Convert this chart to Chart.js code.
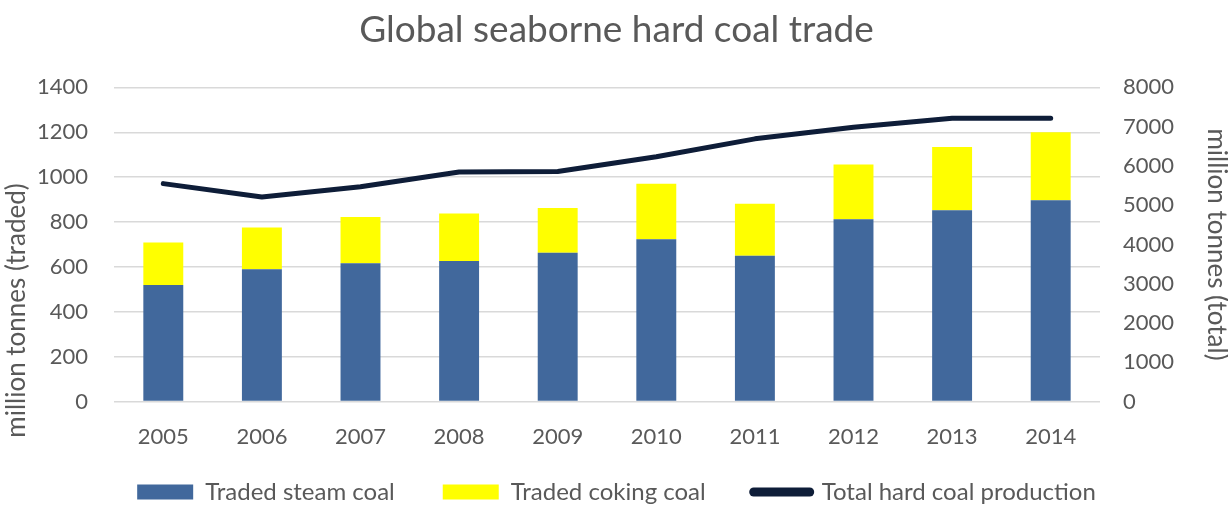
<!DOCTYPE html>
<html>
<head>
<meta charset="utf-8">
<script src="https://cdn.jsdelivr.net/npm/chart.js@4.4.1/dist/chart.umd.min.js"></script>
<style>
  html, body { margin: 0; padding: 0; background: #ffffff; }
  #wrap { width: 1228px; height: 507px; }
</style>
</head>
<body>
<div id="wrap"><canvas id="coalChart"></canvas></div>
<script>
// Years on the x axis
const years = ["2005", "2006", "2007", "2008", "2009", "2010", "2011", "2012", "2013", "2014"];

// million tonnes traded (left axis)
const steamCoal = [520, 590, 616, 627, 663, 723, 650, 813, 853, 897];
const cokingCoal = [189, 186, 207, 211, 200, 248, 232, 244, 281, 303];

// million tonnes total production (right axis)
const totalProduction = [5550, 5210, 5470, 5845, 5860, 6235, 6690, 6985, 7215, 7215];

const textGrey = "#595959";
const baseFont = "Lato, 'Open Sans', sans-serif";
const plainNumber = (v) => String(v);

// legend keeps wide gaps between items but sits closer to the axis
const LEGEND_LIFT = 18;
// the left axis title sits lower than the axis middle in the original
const LEFT_TITLE_SHIFT = 66;

const layoutTweaks = {
    id: "layoutTweaks",
    afterInit(chart) {
        const legend = chart.legend;
        const fit = legend.fit.bind(legend);
        legend.fit = function () {
            fit();
            this.height -= LEGEND_LIFT;
        };
        const draw = legend.draw.bind(legend);
        legend.draw = function () {
            const top = this.top;
            this.top = top - LEGEND_LIFT;
            draw();
            this.top = top;
        };
    },
    afterLayout(chart) {
        const scale = chart.scales.y;
        if (scale._titleShifted) return;
        const drawTitle = scale.drawTitle.bind(scale);
        scale.drawTitle = function () {
            chart.ctx.save();
            chart.ctx.translate(0, LEFT_TITLE_SHIFT);
            drawTitle();
            chart.ctx.restore();
        };
        scale._titleShifted = true;
    }
};

document.addEventListener("DOMContentLoaded", () => {
    const ctx = document.getElementById("coalChart").getContext("2d");
    new Chart(ctx, {
        data: {
            labels: years,
            datasets: [
                {
                    type: "line",
                    label: "Total hard coal production",
                    data: totalProduction,
                    yAxisID: "yTotal",
                    borderColor: "#0e1d38",
                    backgroundColor: "#0e1d38",
                    borderWidth: 5,
                    borderCapStyle: "round",
                    borderJoinStyle: "round",
                    pointRadius: 0,
                    tension: 0,
                    order: 0
                },
                {
                    type: "bar",
                    label: "Traded steam coal",
                    data: steamCoal,
                    yAxisID: "y",
                    backgroundColor: "#41689c",
                    barPercentage: 0.405,
                    categoryPercentage: 1,
                    order: 1
                },
                {
                    type: "bar",
                    label: "Traded coking coal",
                    data: cokingCoal,
                    yAxisID: "y",
                    backgroundColor: "#ffff00",
                    barPercentage: 0.405,
                    categoryPercentage: 1,
                    order: 1
                }
            ]
        },
        options: {
            responsive: true,
            maintainAspectRatio: false,
            animation: false,
            layout: { padding: { left: 1, right: -4, top: 2, bottom: -7 } },
            plugins: {
                title: {
                    display: true,
                    text: "Global seaborne hard coal trade",
                    color: textGrey,
                    font: { family: baseFont, size: 37, weight: "normal" },
                    padding: { top: 6, bottom: 35 }
                },
                legend: {
                    position: "bottom",
                    labels: {
                        color: textGrey,
                        font: { family: baseFont, size: 24 },
                        usePointStyle: true,
                        pointStyleWidth: 56,
                        boxHeight: 15,
                        padding: 48,
                        generateLabels: (chart) => {
                            const items = Chart.defaults.plugins.legend.labels.generateLabels(chart);
                            items.forEach((item) => {
                                if (item.datasetIndex === 0) {
                                    item.pointStyle = "line";
                                    item.lineWidth = 9;
                                    item.lineCap = "round";
                                } else {
                                    item.pointStyle = "rect";
                                    item.lineWidth = 0;
                                }
                            });
                            return items;
                        },
                        // bars first, then the line
                        sort: (a, b) => {
                            const rank = [2, 0, 1];
                            return rank[a.datasetIndex] - rank[b.datasetIndex];
                        }
                    }
                },
                tooltip: { enabled: false }
            },
            scales: {
                x: {
                    stacked: true,
                    grid: { display: false, drawTicks: false },
                    border: { display: false },
                    ticks: { color: textGrey, font: { family: baseFont, size: 22 }, padding: 22 },
                    afterFit: (scale) => { scale.height -= 22; }
                },
                y: {
                    stacked: true,
                    position: "left",
                    min: 0,
                    max: 1400,
                    ticks: { stepSize: 200, color: textGrey, font: { family: baseFont, size: 22 }, padding: 26, callback: plainNumber },
                    grid: { color: "#d9d9d9", lineWidth: 1.5, drawTicks: false },
                    border: { display: false },
                    title: {
                        display: true,
                        text: "million tonnes (traded)",
                        color: textGrey,
                        font: { family: baseFont, size: 26 },
                        padding: { top: 0, bottom: 4 }
                    },
                    afterFit: (scale) => { scale.width = 113; }
                },
                yTotal: {
                    position: "right",
                    min: 0,
                    max: 8000,
                    ticks: { stepSize: 1000, color: textGrey, font: { family: baseFont, size: 22 }, padding: 23, callback: plainNumber },
                    grid: { display: false, drawTicks: false },
                    border: { display: false },
                    title: {
                        display: true,
                        text: "million tonnes (total)",
                        color: textGrey,
                        font: { family: baseFont, size: 26 },
                        padding: { top: 0, bottom: 20 }
                    },
                    afterFit: (scale) => { scale.width = 132; }
                }
            }
        },
        plugins: [layoutTweaks]
    });
});
</script>
</body>
</html>
